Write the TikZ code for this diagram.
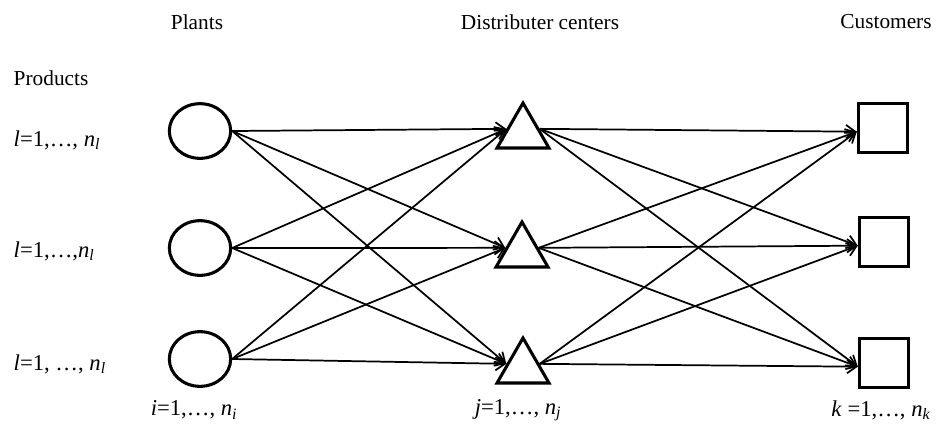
\documentclass[tikz,border=0pt]{standalone}
\usepackage{fontspec}
\setmainfont{Liberation Serif}
\usetikzlibrary{arrows.meta, positioning, shapes.geometric}
\tikzset{every node/.style={font=\fontsize{16}{18}\selectfont}}
\tikzset{
  plant/.style={draw, ellipse, line width=2.3pt, minimum width=46pt, minimum height=41pt, inner sep=0pt},
  center/.style={draw, regular polygon, regular polygon sides=3, line width=2.3pt, minimum size=45pt, inner sep=0pt},
  customer/.style={draw, rectangle, line width=2.3pt, minimum size=37pt, inner sep=0pt},
  flow/.style={line width=1.3pt, -{Straight Barb[length=7pt, width=10pt]}},
  rangelabel/.style={font=\fontsize{17}{19}\selectfont}
}
\newcommand{\idx}[2]{\textit{#1}=1,\ldots, \textit{n}\textsubscript{\textit{#2}}}

\begin{document}
\begin{tikzpicture}[x=0.75pt, y=-0.75pt]
    \useasboundingbox (0,0) rectangle (942,430);
    % headings
    \node (hplant) at (197,22) {Plants};
    \node (hdist) at (540,22) {Distributer centers};
    \node (hcust) at (886,22) {Customers};
    \node[anchor=west] (hprod) at (9,78) {Products};
    % product ranges
    \node[rangelabel, anchor=west] (l1) at (9,140) {\textit{l}=1,\ldots, \textit{n}\textsubscript{\textit{l}}};
    \node[rangelabel, anchor=west] (l2) at (9,251) {\textit{l}=1,\ldots,\textit{n}\textsubscript{\textit{l}}};
    \node[rangelabel, anchor=west] (l3) at (9,364) {\textit{l}=1, \ldots, \textit{n}\textsubscript{\textit{l}}};
    % plants
    \node[plant] (p1) at (200,131) {};
    \node[plant] (p2) at (200,248) {};
    \node[plant] (p3) at (200,359) {};
    % distribution centers
    \node[center] (d1) at (523,133) {};
    \node[center] (d2) at (522,252) {};
    \node[center] (d3) at (523,368) {};
    % customers
    \node[customer] (c1) at (883,128) {};
    \node[customer] (c2) at (884,242) {};
    \node[customer] (c3) at (884,363) {};
    % index ranges
    \node[rangelabel] (ni) at (194,410) {\idx{i}{i}};
    \node[rangelabel] (nj) at (518,410) {\idx{j}{j}};
    \node[rangelabel] (nk) at (881,410) {\textit{k} =1,\ldots, \textit{n}\textsubscript{\textit{k}}};
    % plants to centers
    \draw[flow] (p1.east) -- (d1.166);
    \draw[flow] (p1.east) -- (d2.166);
    \draw[flow] (p1.east) -- (d3.166);
    \draw[flow] (p2.east) -- (d1.166);
    \draw[flow] (p2.east) -- (d2.166);
    \draw[flow] (p2.east) -- (d3.166);
    \draw[flow] (p3.east) -- (d1.166);
    \draw[flow] (p3.east) -- (d2.166);
    \draw[flow] (p3.east) -- (d3.166);
    % centers to customers
    \draw[flow] (d1.14) -- (c1.188);
    \draw[flow] (d1.14) -- (c2.188);
    \draw[flow] (d1.14) -- (c3.188);
    \draw[flow] (d2.14) -- (c1.188);
    \draw[flow] (d2.14) -- (c2.188);
    \draw[flow] (d2.14) -- (c3.188);
    \draw[flow] (d3.14) -- (c1.188);
    \draw[flow] (d3.14) -- (c2.188);
    \draw[flow] (d3.14) -- (c3.188);
  \end{tikzpicture}
\end{document}
